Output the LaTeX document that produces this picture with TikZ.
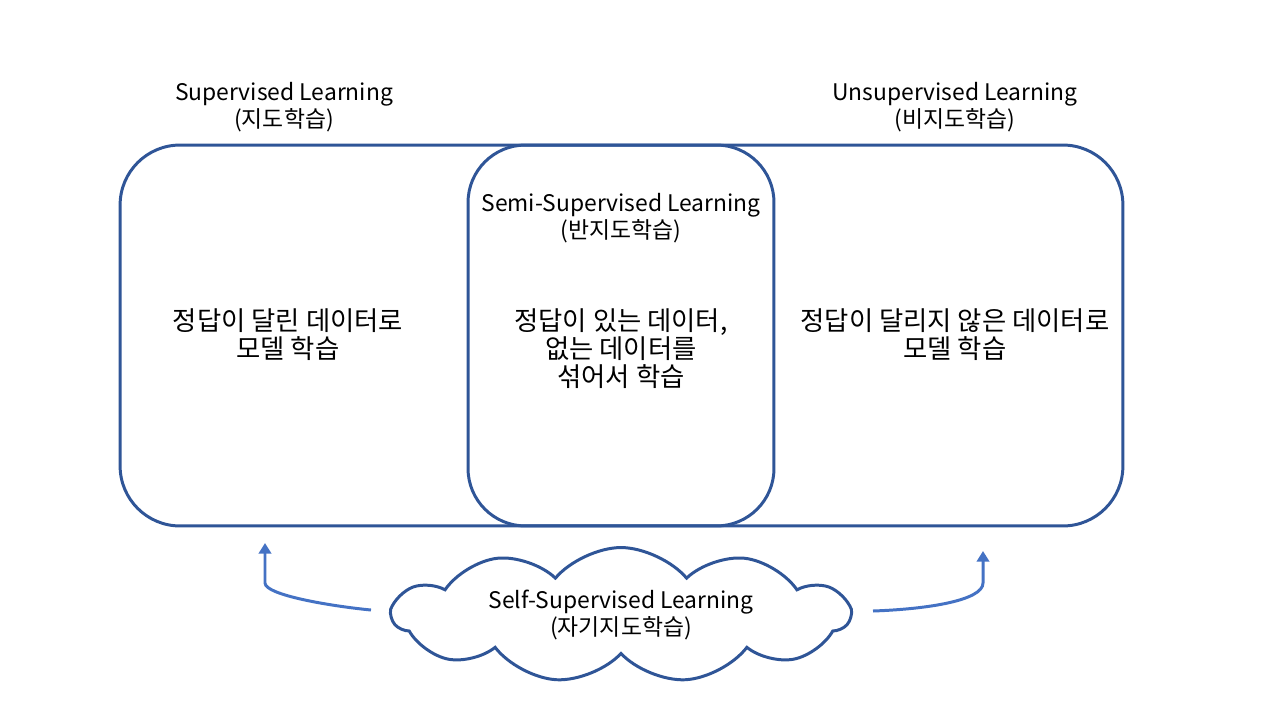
\documentclass[tikz,border=0pt]{standalone}
\usepackage{fontspec}
\setmainfont{Noto Sans CJK KR}
\usetikzlibrary{shapes.symbols,arrows.meta}
\definecolor{boxblue}{HTML}{2F5597}
\definecolor{linkblue}{HTML}{4472C4}
\begin{document}
\begin{tikzpicture}[
    x=0.02cm, y=-0.02cm,
    area/.style={rectangle, draw=boxblue, line width=1.7pt, minimum height=7.62cm},
    ttl/.style={font=\fontsize{13}{15.3}\selectfont, align=center},
    body/.style={font=\fontsize{15}{15.9}\selectfont, align=center},
    link/.style={-{Triangle[length=6pt,width=7pt]}, draw=linkblue, line width=1.7pt},
    >=stealth
]
\useasboundingbox (0,0) rectangle (1280,720);

% Learning areas
\node[area, rounded corners=1.2cm, minimum width=20.06cm] (all) at (621.5,335.5) {};
\node[area, rounded corners=1.15cm, minimum width=6.12cm] (semi) at (621,335.5) {};

% Titles
\node[ttl] (supT) at (284,107) {Supervised Learning\\(지도학습)};
\node[ttl] (unsT) at (955,107) {Unsupervised Learning\\(비지도학습)};
\node[ttl] (semiT) at (621,218) {Semi-Supervised Learning\\(반지도학습)};

% Descriptions
\node[body] (supD) at (288,335) {정답이 달린 데이터로\\모델 학습};
\node[body] (semiD) at (621,349) {정답이 있는 데이터,\\없는 데이터를\\섞어서 학습};
\node[body] (unsD) at (955,335) {정답이 달리지 않은 데이터로\\모델 학습};

% Self-supervised cloud
\node[cloud, draw=boxblue, line width=1.7pt, cloud puffs=11, cloud puff arc=100,
      cloud ignores aspect, minimum width=9.14cm, minimum height=2.56cm, ttl] (self) at (621,615)
      {Self-Supervised Learning\\(자기지도학습)};

% Arrows up to both sides
\coordinate (l0) at (371,610);
\coordinate (l1) at (265,583);
\coordinate (lTip) at (265,543);
\coordinate (r0) at (873,611);
\coordinate (r1) at (983,583);
\coordinate (rTip) at (983,551);
\draw[link] (l0) .. controls (330,606) and (265,595) .. (l1) -- (lTip);
\draw[link] (r0) .. controls (930,609) and (983,600) .. (r1) -- (rTip);
\end{tikzpicture}
\end{document}
